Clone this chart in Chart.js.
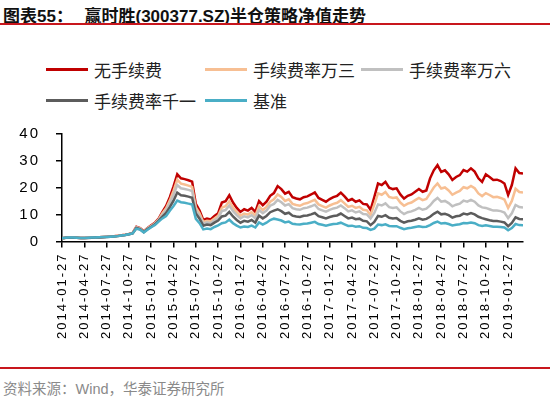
<!DOCTYPE html>
<html>
<head>
<meta charset="utf-8">
<script src="https://cdn.jsdelivr.net/npm/chart.js@4.4.1/dist/chart.umd.min.js"></script>
<style>
  body { margin: 0; background: #fff; }
  #page { position: relative; width: 550px; height: 398px; overflow: hidden; font-family: "Noto Sans CJK SC", sans-serif; }
  .title { position: absolute; left: 3px; top: 2px; font-size: 17px; font-weight: bold; color: #111; white-space: nowrap; }
  .title span { font-family: "Liberation Sans", "Noto Sans CJK SC", sans-serif; }
  .rule { position: absolute; left: 0; width: 550px; height: 2px; background: #c8161d; }
  .legend { position: absolute; font-size: 17px; color: #222; white-space: nowrap; }
  .item { position: absolute; display: flex; align-items: center; }
  .item i { display: inline-block; width: 42px; height: 3px; margin-right: 6px; }
  .source { position: absolute; left: 3px; top: 377px; font-size: 14.5px; color: #8a8a8a; white-space: nowrap; }
  #wrap { position: absolute; left: 0; top: 118px; width: 550px; height: 242px; }
</style>
</head>
<body>
<div id="page">
  <div class="title">图表<span>55</span>：&nbsp;&nbsp;&nbsp;赢时胜<span>(300377.SZ)</span>半仓策略净值走势</div>
  <div class="rule" style="top:23px"></div>
  <div class="legend" id="legend"></div>
  <div id="wrap"><canvas id="chart"></canvas></div>
  <div class="rule" style="top:367px; height:1.5px"></div>
  <div class="source">资料来源：<span style="font-family:'Liberation Sans'">Wind</span>，华泰证券研究所</div>
</div>
<script>
// quarterly axis labels
let tickLabels = ["2014-01-27", "2014-04-27", "2014-07-27", "2014-10-27", "2015-01-27", "2015-04-27",
  "2015-07-27", "2015-10-27", "2016-01-27", "2016-04-27", "2016-07-27", "2016-10-27", "2017-01-27",
  "2017-04-27", "2017-07-27", "2017-10-27", "2018-01-27", "2018-04-27", "2018-07-27", "2018-10-27", "2019-01-27"];

let seriesNames = ["无手续费", "手续费率万三", "手续费率万六", "手续费率千一", "基准"];
let seriesColors = ["#c00000", "#f7bf93", "#c0c0c0", "#5c5c5c", "#4aaec6"];

// values read every half month from 2014-01-27
let noFee = [1.2,1.4,1.5,1.5,1.4,1.3,1.3,1.4,1.5,1.6,1.6,1.7,1.8,1.9,2.0,2.1,2.3,2.5,2.8,3.2,
  5.5,5.0,3.8,5.0,6.0,7.0,8.5,11.0,13.2,16.5,20.5,25.0,23.5,23.2,22.8,22.3,14.0,11.5,8.0,8.5,
  8.2,9.5,10.5,14.5,15.0,17.2,14.5,12.5,11.0,12.0,11.5,12.5,11.0,15.0,13.5,14.8,17.0,18.0,20.6,19.5,
  17.8,18.5,16.5,16.0,15.7,16.5,16.8,17.5,18.3,16.2,15.5,14.8,15.8,16.5,17.0,18.2,16.8,15.2,15.8,14.8,
  15.3,14.0,13.8,11.8,16.5,21.6,21.0,22.2,20.0,19.5,19.8,17.5,16.0,17.0,17.5,18.5,19.5,18.5,19.0,23.5,
  26.5,28.4,25.9,26.5,25.0,22.9,24.0,24.7,26.6,26.0,27.2,26.0,23.5,22.2,25.0,24.0,22.9,23.0,22.5,21.6,
  17.3,21.0,27.2,25.5,25.3];

let fee3 = [1.2,1.4,1.5,1.5,1.4,1.3,1.3,1.4,1.5,1.6,1.6,1.7,1.8,1.9,2.0,2.1,2.3,2.5,2.8,3.1,
  5.3,4.9,3.7,4.9,5.8,6.8,8.2,10.5,12.4,15.3,18.9,23.0,21.5,21.2,20.8,20.3,12.7,10.5,7.3,7.7,
  7.5,8.6,9.6,12.6,13.1,15.0,12.6,10.9,9.6,10.4,10.0,10.9,9.6,13.1,11.7,12.9,14.8,15.7,17.5,16.6,
  15.1,15.7,14.0,13.6,13.3,14.0,14.3,14.9,15.5,13.8,13.2,12.6,13.4,14.0,14.4,15.4,14.2,12.9,13.3,12.5,
  12.9,11.8,11.6,9.9,13.7,17.9,17.4,18.4,16.6,16.2,16.4,14.5,13.3,14.1,14.5,15.4,16.2,15.4,15.8,17.9,
  20.1,21.6,19.7,20.1,19.0,17.4,18.2,18.8,20.2,19.8,20.7,19.8,17.9,16.9,18.0,17.3,16.5,16.6,16.2,15.6,
  12.5,15.1,19.6,18.4,18.2];

let fee6 = [1.2,1.4,1.5,1.5,1.4,1.3,1.3,1.4,1.5,1.6,1.6,1.7,1.8,1.9,1.9,2.0,2.2,2.4,2.7,3.1,
  5.2,4.8,3.6,4.8,5.7,6.6,8.0,9.9,11.6,14.3,17.4,21.0,19.8,19.5,19.2,18.8,11.6,9.5,6.6,7.1,
  6.8,7.9,8.7,11.3,11.7,13.4,11.3,9.8,8.6,9.4,9.0,9.8,8.6,11.7,10.5,11.5,13.3,14.0,15.5,14.6,
  13.4,13.9,12.4,12.0,11.8,12.4,12.6,13.1,13.7,12.1,11.6,11.1,11.8,12.3,12.6,13.4,12.4,11.2,11.6,10.8,
  11.2,10.2,10.1,8.6,10.6,13.8,13.4,14.2,12.8,12.5,12.7,11.2,10.2,10.9,11.2,11.8,12.5,11.8,12.2,13.4,
  15.1,16.2,14.8,15.1,14.3,13.1,13.7,14.1,15.2,14.8,15.5,14.8,13.4,12.7,12.5,12.0,11.5,11.5,11.3,10.8,
  8.7,10.5,13.6,12.8,12.6];

let fee10 = [1.2,1.4,1.4,1.4,1.4,1.3,1.3,1.3,1.4,1.5,1.5,1.6,1.7,1.8,1.9,2.0,2.2,2.4,2.7,3.0,
  5.0,4.6,3.5,4.6,5.5,6.4,7.8,9.3,10.6,12.8,15.2,18.2,17.2,17.0,16.7,16.3,10.4,8.5,5.9,6.3,
  6.1,7.0,7.8,9.3,9.6,11.0,9.3,8.0,7.0,7.7,7.4,8.0,7.0,9.6,8.6,9.5,10.9,11.5,12.0,11.3,
  10.3,10.7,9.6,9.3,9.1,9.6,9.7,10.1,10.6,9.4,9.0,8.6,9.1,9.5,9.7,10.4,9.5,8.6,8.9,8.3,
  8.5,7.7,7.5,6.1,7.3,9.5,9.2,9.8,8.8,8.6,8.7,7.7,7.0,7.5,7.7,8.1,8.6,8.1,8.4,9.2,
  10.3,11.1,10.1,10.3,9.8,8.9,9.4,9.6,10.4,10.1,10.6,10.1,9.2,8.7,8.3,7.9,7.6,7.6,7.4,7.1,
  5.7,6.9,9.0,8.4,8.3];

let benchmark = [1.2,1.4,1.5,1.5,1.4,1.3,1.3,1.4,1.5,1.5,1.6,1.7,1.7,1.8,1.9,2.0,2.2,2.4,2.7,3.0,
  4.8,4.4,3.4,4.4,5.3,6.1,7.4,8.6,9.5,11.4,13.2,15.2,14.6,14.4,14.1,13.8,8.4,6.8,4.5,4.8,
  4.6,5.4,6.0,6.8,7.1,8.1,6.8,5.9,5.2,5.6,5.4,5.9,5.2,7.1,6.3,7.0,8.0,8.5,8.2,7.8,
  7.1,7.4,6.6,6.4,6.3,6.6,6.7,7.0,7.3,6.5,6.2,5.9,6.2,6.5,6.6,7.0,6.4,5.8,5.9,5.5,
  5.7,5.1,5.0,4.3,4.8,6.3,6.1,6.4,5.8,5.7,5.7,5.1,4.6,4.9,5.1,5.4,5.7,5.4,5.5,6.1,
  6.9,7.4,6.7,6.9,6.5,6.0,6.2,6.4,6.9,6.8,7.1,6.8,6.1,5.8,6.0,5.8,5.5,5.5,5.4,5.2,
  4.2,5.0,6.5,6.1,6.0];

let allSeries = [noFee, fee3, fee6, fee10, benchmark];

// legend drawn as html (two rows like the original)
let legendPos = [[46, 69], [205, 69], [361, 69], [46, 100], [205, 100]];
let legend = document.getElementById("legend");
seriesNames.forEach((name, k) => {
  let d = document.createElement("div");
  d.className = "item";
  d.style.left = legendPos[k][0] + "px";
  d.style.top = (legendPos[k][1] - 12) + "px";
  d.innerHTML = '<i style="background:' + seriesColors[k] + '"></i>' + name;
  legend.appendChild(d);
});

// the original date labels look stretched along their length
let spacedText = {
  id: "spacedText",
  beforeDraw: c => { c.ctx.letterSpacing = "2px"; },
  afterDraw: c => { c.ctx.letterSpacing = "0px"; }
};

let ctx = document.getElementById("chart").getContext("2d");
let chart = new Chart(ctx, {
  type: "line",
  data: {
    datasets: allSeries.map((vals, k) => ({
      label: seriesNames[k],
      data: vals.map((v, i) => ({ x: i * 0.5, y: v })),
      borderColor: seriesColors[k],
      borderWidth: 2.5,
      pointRadius: 0,
      tension: 0,
      order: 5 - k
    }))
  },
  plugins: [spacedText],
  options: {
    responsive: true,
    maintainAspectRatio: false,
    animation: false,
    layout: { padding: { top: 16, right: 27, left: 0, bottom: 0 } },
    plugins: { legend: { display: false }, tooltip: { enabled: false } },
    scales: {
      x: {
        type: "linear",
        min: 0,
        max: 62,
        afterFit: s => { s.height = 118.5; },
        border: { color: "#000", width: 1.5 },
        grid: { drawOnChartArea: false, drawTicks: true, tickLength: 6, color: "#000", lineWidth: 1.5 },
        ticks: {
          stepSize: 3,
          includeBounds: false,
          autoSkip: false,
          minRotation: 90,
          maxRotation: 90,
          padding: 5,
          color: "#000",
          font: { family: "Liberation Sans", size: 13 },
          callback: v => tickLabels[v / 3]
        }
      },
      y: {
        min: 0,
        max: 40,
        afterFit: s => { s.width = 62; s.paddingTop = 0; s.paddingBottom = 0; },
        border: { color: "#000", width: 1.5 },
        grid: { drawOnChartArea: false, drawTicks: true, tickLength: 6, color: "#000", lineWidth: 1.5 },
        ticks: {
          stepSize: 10,
          padding: 16,
          color: "#000",
          font: { family: "Liberation Sans", size: 15 }
        }
      }
    }
  }
});
</script>
</body>
</html>
